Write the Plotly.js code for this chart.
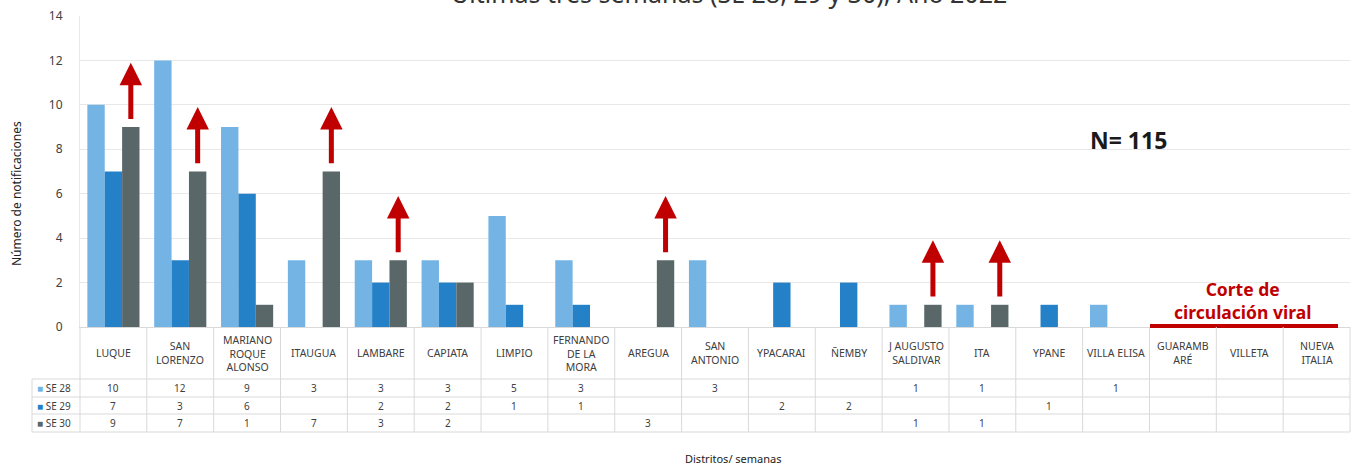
<!DOCTYPE html>
<html>
<head>
<meta charset="utf-8">
<script src="https://cdn.plot.ly/plotly-3.0.1.min.js"></script>
<style>html,body{margin:0;padding:0;background:#fff;}#chart{width:1354px;height:465px;}</style>
</head>
<body>
<div id="chart"></div>
<script>
// ---- DATA ----
const categories = ["LUQUE","SAN LORENZO","MARIANO ROQUE ALONSO","ITAUGUA","LAMBARE","CAPIATA","LIMPIO","FERNANDO DE LA MORA","AREGUA","SAN ANTONIO","YPACARAI","ÑEMBY","J AUGUSTO SALDIVAR","ITA","YPANE","VILLA ELISA","GUARAMBARÉ","VILLETA","NUEVA ITALIA"];
const headerLabels = ["LUQUE","SAN<br>LORENZO","MARIANO<br>ROQUE<br>ALONSO","ITAUGUA","LAMBARE","CAPIATA","LIMPIO","FERNANDO<br>DE LA<br>MORA","AREGUA","SAN<br>ANTONIO","YPACARAI","ÑEMBY","J AUGUSTO<br>SALDIVAR","ITA","YPANE","VILLA ELISA","GUARAMB<br>ARÉ","VILLETA","NUEVA<br>ITALIA"];
const se28 = [10,12,9,3,3,3,5,3,null,3,null,null,1,1,null,1,null,null,null];
const se29 = [7,3,6,null,2,2,1,1,null,null,2,2,null,null,1,null,null,null,null];
const se30 = [9,7,1,7,3,2,null,null,3,null,null,null,1,1,null,null,null,null,null];
const seriesNames = ["SE 28","SE 29","SE 30"];
const arrowCats = ["LUQUE","SAN LORENZO","ITAUGUA","LAMBARE","AREGUA","J AUGUSTO SALDIVAR","ITA"];
const yTicks = [0,2,4,6,8,10,12,14];

// ---- STYLE ----
const W = 1354, H = 465;
const px = x => x / W;
const py = y => 1 - y / H;
const colors = ["#74b4e5", "#2480c7", "#5a6769"];
const textCol = "#404040";
const lineCol = "#d9d9d9";
const FONT = "Noto Sans, sans-serif";

const seriesData = [se28, se29, se30];
const traces = seriesData.map((vals, k) => ({
  type: "bar",
  name: seriesNames[k],
  x: categories,
  y: vals,
  marker: {color: colors[k], line: {width: 0}},
  hoverinfo: "x+y+name"
}));

const annotations = [];
const shapes = [];

// Title (cut at the top of the picture)
annotations.push({
  text: "Últimas tres semanas (SE 28, 29 y 30), Año 2022",
  xref: "paper", yref: "paper", x: px(729), y: py(-7.5),
  xanchor: "center", yanchor: "middle", showarrow: false,
  font: {family: FONT, size: 25, color: "#333"}
});

// Axis titles
annotations.push({
  text: "Número de notificaciones", xref: "paper", yref: "paper",
  x: px(16), y: py(194), textangle: -90, showarrow: false,
  xanchor: "center", yanchor: "middle",
  font: {family: FONT, size: 12, color: "#222"}
});
annotations.push({
  text: "Distritos/ semanas", xref: "paper", yref: "paper",
  x: px(734), y: py(458), showarrow: false,
  xanchor: "center", yanchor: "middle",
  font: {family: FONT, size: 11, color: "#222"}
});

// N = 115
const total = seriesData.flat().reduce((a, b) => a + (b || 0), 0);
annotations.push({
  text: "<b>N= " + total + "</b>", xref: "paper", yref: "paper",
  x: px(1128), y: py(140), showarrow: false,
  xanchor: "center", yanchor: "middle",
  font: {family: FONT, size: 23, color: "#1a1a1a"}
});

// Corte de circulación viral
annotations.push({
  text: "<b>Corte de<br>circulación viral</b>", xref: "paper", yref: "paper",
  x: px(1242), y: py(300), showarrow: false,
  xanchor: "center", yanchor: "middle",
  font: {family: FONT, size: 17.5, color: "#c00000"}
});
shapes.push({
  type: "line", xref: "paper", yref: "paper",
  x0: px(1150), x1: px(1338), y0: py(326), y1: py(326),
  line: {color: "#c00000", width: 4}
});

// Red arrows above SE 30 bars
arrowCats.forEach(cat => {
  const i = categories.indexOf(cat);
  const v = se30[i];
  annotations.push({
    x: cat, y: v + 2.9, xref: "x", yref: "y",
    ax: 0, ay: v + 0.3, ayref: "y",
    text: "", showarrow: true,
    arrowhead: 2, arrowsize: 0.9, arrowwidth: 5,
    arrowcolor: "#c00000", xshift: 17.4, standoff: 0, startstandoff: 0
  });
});

// ---- TABLE below the axis ----
const headerTop = 327, headerBot = 379;
const rowBounds = [379, 397, 414, 432];
const legendLeft = 32;

headerLabels.forEach((lab, i) => {
  annotations.push({
    text: lab, xref: "x", yref: "paper", x: categories[i], y: py((headerTop + headerBot) / 2),
    showarrow: false, xanchor: "center", yanchor: "middle",
    font: {family: FONT, size: 10.5, color: textCol}
  });
});
seriesData.forEach((vals, k) => {
  const yc = (rowBounds[k] + rowBounds[k + 1]) / 2;
  vals.forEach((v, i) => {
    if (v === null) return;
    annotations.push({
      text: String(v), xref: "x", yref: "paper", x: categories[i], y: py(yc),
      showarrow: false, xanchor: "center", yanchor: "middle",
      font: {family: FONT, size: 10, color: textCol}
    });
  });
  annotations.push({
    text: "<span style='color:" + colors[k] + "'>■</span> " + seriesNames[k],
    xref: "paper", yref: "paper", x: px(legendLeft + 3), y: py(yc),
    showarrow: false, xanchor: "left", yanchor: "middle",
    font: {family: FONT, size: 10, color: textCol}
  });
});
for (let i = 1; i < categories.length; i++) {
  shapes.push({type: "line", xref: "x", yref: "paper", x0: i - 0.5, x1: i - 0.5,
    y0: py(headerTop), y1: py(rowBounds[3]), line: {color: lineCol, width: 1}});
}
[80, 1350].forEach(xp => shapes.push({type: "line", xref: "paper", yref: "paper",
  x0: px(xp), x1: px(xp), y0: py(headerTop), y1: py(rowBounds[3]), line: {color: lineCol, width: 1}}));
shapes.push({type: "line", xref: "paper", yref: "paper", x0: px(legendLeft), x1: px(legendLeft),
  y0: py(rowBounds[0]), y1: py(rowBounds[3]), line: {color: lineCol, width: 1}});
rowBounds.forEach(yb => shapes.push({type: "line", xref: "paper", yref: "paper",
  x0: px(legendLeft), x1: px(1350), y0: py(yb), y1: py(yb), line: {color: lineCol, width: 1}}));

const layout = {
  width: W, height: H,
  margin: {l: 0, r: 0, t: 0, b: 0, pad: 0},
  paper_bgcolor: "#fff", plot_bgcolor: "#fff",
  showlegend: false,
  barmode: "group", bargap: 0.22, bargroupgap: 0,
  font: {family: FONT, color: textCol},
  xaxis: {
    type: "category", domain: [px(80), px(1350)], range: [-0.5, categories.length - 0.5],
    showticklabels: false, ticks: "", showgrid: false, zeroline: false,
    showline: true, linecolor: lineCol, linewidth: 1, fixedrange: true
  },
  yaxis: {
    domain: [py(327), py(16)], range: [0, 14], tickvals: yTicks,
    ticktext: yTicks.map(String), showgrid: true, gridcolor: "#e8e8e8", gridwidth: 1,
    zeroline: false, showline: true, linecolor: "#e8e8e8", ticks: "",
    ticklabelstandoff: 14,
    tickfont: {family: FONT, size: 12, color: textCol}, fixedrange: true
  },
  annotations: annotations,
  shapes: shapes
};

Plotly.newPlot("chart", traces, layout, {displayModeBar: false, staticPlot: true});
</script>
</body>
</html>
